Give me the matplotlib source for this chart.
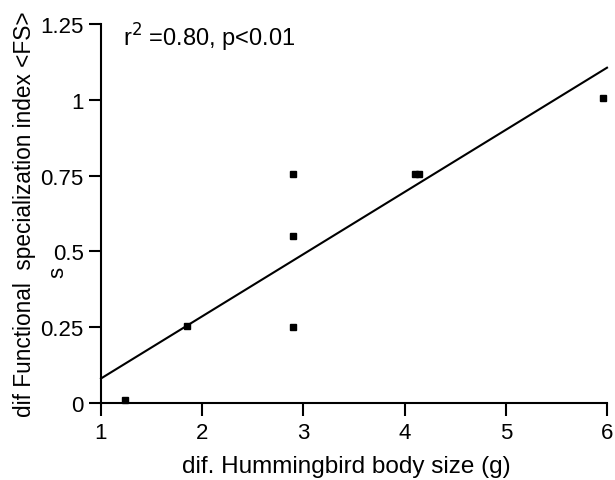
import numpy as np
import matplotlib.pyplot as plt

plt.rcParams['font.family'] = ['Liberation Sans', 'DejaVu Sans']

# data
body_size = [1.24, 1.85, 2.90, 2.90, 2.90, 4.10, 4.14, 5.96]
fs_index = [0.01, 0.255, 0.755, 0.55, 0.25, 0.755, 0.755, 1.005]
xticks = [1, 2, 3, 4, 5, 6]
yticks = [0, 0.25, 0.5, 0.75, 1, 1.25]
yticklabels = ['0', '0.25', '0.5', '0.75', '1', '1.25']

slope, icpt = np.polyfit(body_size, fs_index, 1)
xfit = np.array([1, 6])

fig = plt.figure(figsize=(6.15, 4.81), dpi=100)
ax = fig.add_axes([101/615, 1 - 404/481, 506/615, 379/481])

ax.plot(xfit, slope*xfit + icpt, color='k', lw=1.5, clip_on=False)
ax.plot(body_size, fs_index, 's', color='k', ms=4.5, clip_on=False)

ax.set_xlim(1, 6)
ax.set_ylim(0, 1.25)
ax.set_xticks(xticks)
ax.set_yticks(yticks)
ax.set_yticklabels(yticklabels)
for s in ['top', 'right']:
    ax.spines[s].set_visible(False)
for s in ['left', 'bottom']:
    ax.spines[s].set_linewidth(1.5)
ax.tick_params(width=1.5, length=9, labelsize=16)
ax.tick_params(axis='y', pad=3.5)
ax.tick_params(axis='x', pad=5)

ax.set_xlabel('dif. Hummingbird body size (g)', fontsize=17.5)
ax.xaxis.label.set_va('baseline')
ax.xaxis.set_label_coords((346 - 101)/506, -(473 - 404)/379)
ax.set_ylabel('dif Functional  specialization index <FS>', fontsize=16.3, labelpad=3)
fig.text(123/615, 1 - 47/481, 'r$^2$ =0.80, p<0.01', fontsize=17,
         va='baseline', ha='left')
fig.text(58/615, 1 - 272/481, 's', rotation=90,
         fontsize=16, ha='center', va='center')

fig.savefig('out.png', dpi=100)
